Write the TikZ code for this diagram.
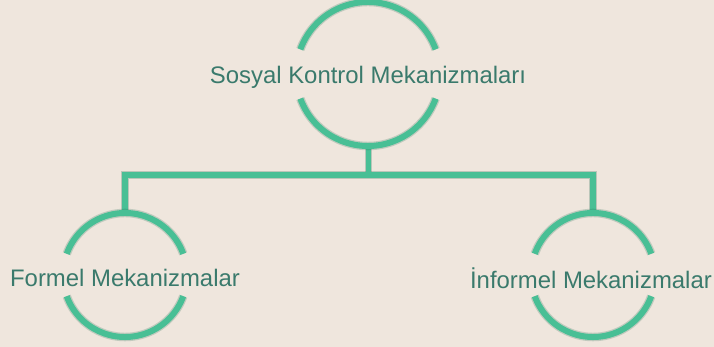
\documentclass[tikz,border=0pt]{standalone}
\usepackage{fontspec}
\setmainfont{Liberation Sans}
\definecolor{bg}{HTML}{EFE6DD}
\definecolor{arcc}{HTML}{48BF95}
\definecolor{shad}{HTML}{1E6A50}
\definecolor{txt}{HTML}{3A7A6C}
\begin{document}
\begin{tikzpicture}[x=1pt,y=1pt,
  ring/.style={circle,minimum size=#1,inner sep=0pt,draw=none},
  lbl/.style={font=\fontsize{23.9}{26}\selectfont,text=txt,inner sep=0pt,yshift=-3pt},
  pipe/.style={draw=arcc,line width=6pt},
  pipeshadow/.style={draw=shad,line width=8pt,opacity=0.25},
  ringarc/.style={draw=arcc,line width=6pt},
  arcshadow/.style={draw=shad,line width=8.5pt,opacity=0.22}]
\fill[bg] (0,0) rectangle (714,347);
\useasboundingbox (0,0) rectangle (714,347);
% rings
\node[ring=144pt] (top) at (368,273) {};
\node[ring=124pt] (left) at (125,72) {};
\node[ring=124pt] (right) at (593,72) {};
\coordinate (j) at (top.south |- 0,172);
% shadows of connectors
\begin{scope}[shift={(1.5,-2.5)}]
\draw[pipeshadow,line width=7pt] (top.south) -- (j);
\draw[pipeshadow] (left.north) |- (j) -| (right.north);
\end{scope}
\draw[pipe,line width=5pt] (top.south) -- (j);
\draw[pipe,line join=miter] (left.north) |- (j) -| (right.north);
% arcs
\foreach \n/\r in {top/72,left/62,right/62}{
  \begin{scope}[shift={(1.5,-2.5)}]
  \draw[arcshadow] ([shift={(20:\r)}]\n.center) arc (20:160:\r);
  \draw[arcshadow] ([shift={(200:\r)}]\n.center) arc (200:340:\r);
  \end{scope}
  \draw[ringarc] ([shift={(20:\r)}]\n.center) arc (20:160:\r);
  \draw[ringarc] ([shift={(200:\r)}]\n.center) arc (200:340:\r);
}
% labels
\node[lbl] (ttop) at (top.center) {Sosyal Kontrol Mekanizmaları};
\node[lbl] (tleft) at (left.center) {Formel Mekanizmalar};
\node[lbl,anchor=east] (tright) at (712,72) {İnformel Mekanizmalar};
\end{tikzpicture}
\end{document}
